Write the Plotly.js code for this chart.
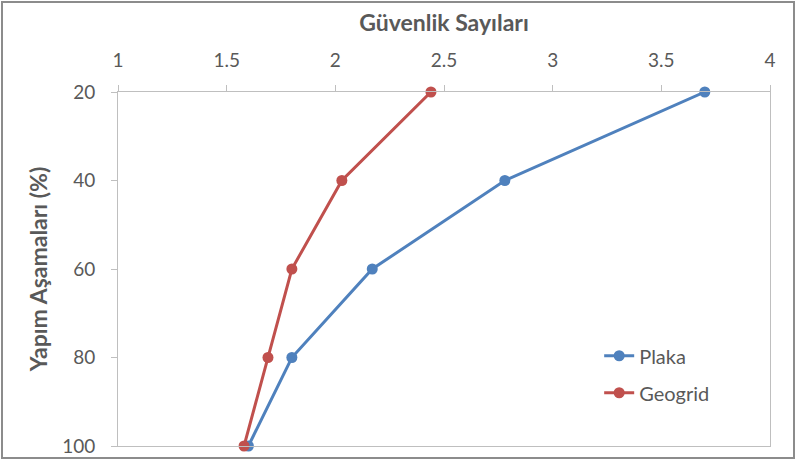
<!DOCTYPE html>
<html>
<head>
<meta charset="utf-8">
<script src="https://cdn.plot.ly/plotly-3.0.1.min.js"></script>
<style>
  html, body { margin: 0; padding: 0; background: #fff; }
  #wrap { position: relative; width: 795px; height: 461px; }
  #chart { width: 795px; height: 461px; }
  #frame {
    position: absolute; left: 1px; top: 1px; width: 790px; height: 454px;
    border: 2px solid #8c8c8c; pointer-events: none;
  }
</style>
</head>
<body>
<div id="wrap">
  <div id="chart"></div>
  <div id="frame"></div>
</div>
<script>
// Construction stage (%) on the vertical axis, safety factor on the horizontal axis
const stages = [20, 40, 60, 80, 100];
const plakaSafety = [3.70, 2.78, 2.17, 1.80, 1.60];
const geogridSafety = [2.44, 2.03, 1.80, 1.69, 1.58];
const seriesNames = ['Plaka', 'Geogrid'];
const xTicks = [1, 1.5, 2, 2.5, 3, 3.5, 4];
const yTicks = [20, 40, 60, 80, 100];

const fontFamily = 'Lato, "Open Sans", sans-serif';
const textGrey = '#595959';
const axisGrey = '#bfbfbf';

const traces = [
  {
    x: plakaSafety, y: stages, name: seriesNames[0], legendgroup: 'a',
    mode: 'lines+markers', type: 'scatter', cliponaxis: false,
    line: { color: '#4f81bd', width: 3 },
    marker: { color: '#4f81bd', size: 11 }
  },
  {
    x: geogridSafety, y: stages, name: seriesNames[1], legendgroup: 'b',
    mode: 'lines+markers', type: 'scatter', cliponaxis: false,
    line: { color: '#c0504d', width: 3 },
    marker: { color: '#c0504d', size: 11 }
  }
];

const layout = {
  width: 795, height: 461,
  margin: { l: 118, r: 25, t: 92, b: 15 },
  paper_bgcolor: '#fff', plot_bgcolor: '#fff',
  font: { family: fontFamily, color: textGrey, size: 19 },
  showlegend: true,
  legend: {
    x: 0.738, y: 0.31, xanchor: 'left', yanchor: 'top',
    font: { size: 20, color: textGrey },
    tracegroupgap: 8, bgcolor: 'rgba(0,0,0,0)'
  },
  xaxis: {
    side: 'top', range: [1, 4], tickvals: xTicks,
    ticks: 'outside', ticklen: 6, tickcolor: axisGrey, tickwidth: 1,
    ticklabelstandoff: 10,
    showline: true, linecolor: axisGrey, linewidth: 1, mirror: true,
    showgrid: false, zeroline: false,
    tickfont: { size: 19, color: textGrey },
    title: { text: '<b>Güvenlik Sayıları</b>', font: { size: 23, color: textGrey }, standoff: 10 }
  },
  yaxis: {
    range: [100, 20], tickvals: yTicks,
    ticks: 'outside', ticklen: 6, tickcolor: axisGrey, tickwidth: 1,
    ticklabelstandoff: 12,
    showline: true, linecolor: axisGrey, linewidth: 1, mirror: true,
    showgrid: false, zeroline: false,
    tickfont: { size: 19, color: textGrey },
    title: { text: '<b>Yapım Aşamaları (%)</b>', font: { size: 23, color: textGrey }, standoff: 8 }
  }
};

Plotly.newPlot('chart', traces, layout, { displayModeBar: false, staticPlot: true });
</script>
</body>
</html>
